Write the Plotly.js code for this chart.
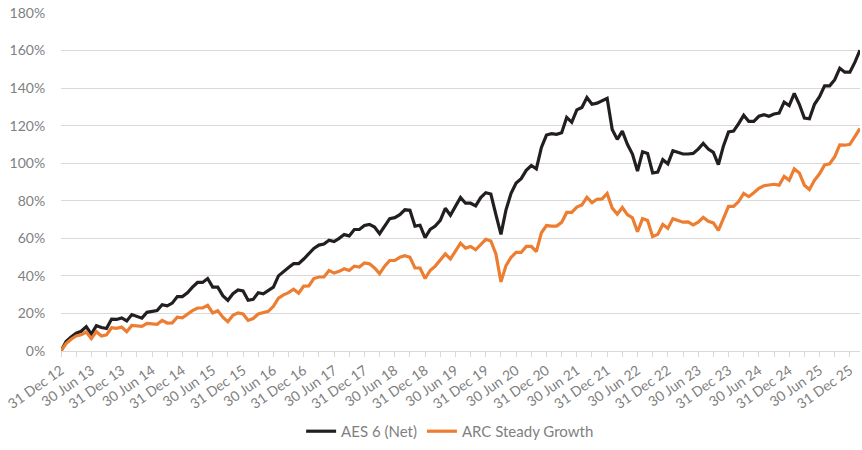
<!DOCTYPE html>
<html>
<head>
<meta charset="utf-8">
<script src="https://cdn.plot.ly/plotly-3.0.1.min.js"></script>
<style>
    html, body { margin: 0; padding: 0; background: #ffffff; }
    #graph { width: 862px; height: 450px; }
</style>
</head>
<body>
<div id="graph"></div>
<script>
// Cumulative returns (%) month by month, 31 Dec 12 to end of Feb 26
var aesNet = [
    0, 5, 7.5, 9.5, 10.5, 13, 9, 13.5, 12.5, 12,
    17, 16.8, 17.6, 16, 19.4, 18.5, 17.5, 20.6, 21, 21.5,
    24.6, 24, 25.5, 29, 29, 31, 34, 36.5, 36.5, 38.6,
    34, 34, 29.5, 27, 30.5, 32.5, 32, 27, 27.5, 31,
    30.5, 32.5, 34, 40, 42.5, 44.5, 46.5, 46.5, 49, 51.7,
    54.6, 56.4, 57, 59, 58.3, 60, 62, 61.3, 64.7, 64.7,
    66.8, 67.4, 66, 62.5, 66.5, 70.5, 71, 72.6, 75.2, 74.9,
    66.5, 67, 60.4, 64.7, 66.5, 69.6, 76, 72.3, 77, 81.8,
    78.7, 78.7, 77.3, 81.7, 84.3, 83.6, 72.6, 62.1, 75.2, 84,
    89.5, 91.8, 96.2, 98.8, 97, 108.4, 115, 115.7, 115.4, 116.2,
    124.4, 121.8, 128.4, 129.7, 135, 131.4, 132, 133.2, 134.6, 118,
    112.7, 117.1, 110.1, 104.9, 95.8, 106.1, 105.2, 94.8, 95.3, 101.9,
    99.7, 106.6, 105.8, 104.9, 104.9, 105.2, 107.5, 110.5, 107.5, 105.8,
    99.3, 109.2, 116.7, 117.1, 121.1, 125.5, 122.3, 122.3, 125, 125.8,
    125, 126.2, 126.7, 132.5, 130.7, 137.2, 131.4, 124.1, 123.7, 131.4,
    135.4, 141.2, 141.2, 144.5, 150.6, 148.5, 148.5, 153.8, 160.2
];

var arcSteady = [
    0, 4, 6.3, 8, 8.6, 10.1, 6.6, 10.3, 8, 8.6,
    12.4, 12.1, 12.8, 10.3, 13.6, 13.3, 13.1, 14.7, 14.5, 14.2,
    16.3, 14.9, 15, 18, 17.7, 19.7, 21.5, 22.9, 22.9, 24.3,
    20.3, 21.5, 18, 15.6, 19, 20.3, 19.7, 16.3, 17.3, 19.7,
    20.3, 21.1, 23.8, 28.1, 29.9, 31.1, 32.9, 30.8, 34.6, 34.7,
    38.6, 39.4, 39.4, 42.9, 41.5, 42.4, 43.8, 42.9, 45.2, 44.7,
    46.9, 46.4, 44.2, 41.2, 45.2, 48.2, 48.2, 49.9, 50.8, 49.9,
    44.2, 44.2, 38.6, 42.9, 45.2, 48.2, 51.7, 49, 53.4, 57.4,
    54.8, 55.7, 53.9, 56.9, 59.5, 58.6, 51.7, 36.8, 45.5, 49.9,
    52.5, 52.5, 55.7, 55.7, 52.9, 63, 66.8, 66.5, 66.5, 68.5,
    73.8, 73.8, 76.6, 77.8, 81.8, 79, 80.8, 81, 83.9, 76.1,
    72.9, 76.4, 72.6, 70.9, 63.5, 70.5, 69.5, 60.9, 62.1, 67.4,
    65.3, 70.5, 69.5, 68.6, 68.8, 67.2, 68.6, 71.2, 69.1, 68.2,
    64.2, 70.9, 77, 77, 79.6, 83.9, 82.2, 84.3, 86.6, 88,
    88.3, 88.8, 88.3, 93, 90.9, 97, 94.8, 88.3, 86, 90.9,
    94.4, 99.1, 99.7, 103.5, 109.8, 109.6, 110.1, 114.5, 118.5
];

var monthNames = ['Jan', 'Feb', 'Mar', 'Apr', 'May', 'Jun', 'Jul', 'Aug', 'Sep', 'Oct', 'Nov', 'Dec'];
var monthDays = [31, 28, 31, 30, 31, 30, 31, 31, 30, 31, 30, 31];

// Month-end labels, one per data point, starting at 31 Dec 12
function buildMonths(count) {
    var out = [];
    var year = 2012, month = 11;
    for (var i = 0; i < count; i++) {
        var day = monthDays[month];
        if (month == 1 && year % 4 == 0) day = 29;
        out.push(day + ' ' + monthNames[month] + ' ' + String(year).slice(2));
        month++;
        if (month > 11) { month = 0; year++; }
    }
    return out;
}

var months = buildMonths(aesNet.length);

// Tick every quarter, label every half year
var tickVals = [];
var tickText = [];
var tickIdx = [];
months.forEach(function(m, i) {
    if (i % 3 == 0) {
        tickVals.push(m);
        tickIdx.push(i);
        tickText.push(i % 6 == 0 ? m : '');
    }
});

var fontFamily = 'Lato, "Open Sans", sans-serif';
var greyText = '#7f7f7f';
var gridGrey = '#d9d9d9';

var trace1 = {
    x: months,
    y: aesNet,
    type: 'scatter',
    mode: 'lines',
    name: 'AES 6 (Net)',
    line: { color: '#231f20', width: 3.2 },
    hoverinfo: 'skip'
};

var trace2 = {
    x: months,
    y: arcSteady,
    type: 'scatter',
    mode: 'lines',
    name: 'ARC Steady Growth',
    line: { color: '#ed7d31', width: 3.2 },
    hoverinfo: 'skip'
};

var layout = {
    width: 862,
    height: 450,
    paper_bgcolor: '#ffffff',
    plot_bgcolor: '#ffffff',
    margin: { l: 61, r: 2, t: 13, b: 93 },
    font: { family: fontFamily, size: 14, color: greyText },
    showlegend: true,
    xaxis: {
        type: 'category',
        automargin: false,
        range: [0, months.length - 1],
        tickmode: 'array',
        tickvals: tickVals,
        ticktext: tickText,
        tickangle: -35,
        ticks: 'outside',
        ticklen: 5,
        tickcolor: gridGrey,
        showline: true,
        linecolor: gridGrey,
        linewidth: 1,
        showgrid: false,
        zeroline: false,
        tickfont: { family: fontFamily, size: 14, color: greyText }
    },
    // second axis only to draw the upper half of the crossing tick marks
    xaxis2: {
        overlaying: 'x',
        anchor: 'y',
        automargin: false,
        range: [0, months.length - 1],
        tickmode: 'array',
        tickvals: tickIdx,
        ticktext: tickIdx.map(function() { return ''; }),
        ticks: 'inside',
        ticklen: 5,
        tickcolor: gridGrey,
        showgrid: false,
        zeroline: false,
        showline: false,
        side: 'bottom'
    },
    yaxis: {
        automargin: false,
        range: [0, 180],
        tickmode: 'linear',
        tick0: 0,
        dtick: 20,
        ticksuffix: '%',
        ticks: 'outside',
        ticklen: 12,
        tickcolor: 'rgba(0,0,0,0)',
        gridcolor: gridGrey,
        gridwidth: 1,
        zeroline: false,
        showline: false,
        tickfont: { family: fontFamily, size: 14, color: greyText }
    },
    legend: {
        orientation: 'h',
        x: 0.487,
        xanchor: 'center',
        y: -0.238,
        yanchor: 'middle',
        font: { family: fontFamily, size: 15, color: greyText },
        itemwidth: 30
    }
};

Plotly.newPlot('graph', [trace1, trace2], layout, { displayModeBar: false, staticPlot: true });
</script>
</body>
</html>
